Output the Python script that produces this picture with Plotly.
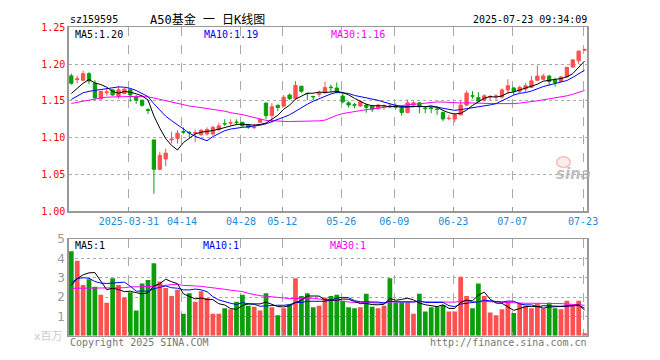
import plotly.graph_objects as go
import numpy as np
import math

dates = ["2025-" + d for d in [
    "03-17","03-18","03-19","03-20","03-21","03-24","03-25","03-26","03-27","03-28","03-31",
    "04-01","04-02","04-03","04-07","04-08","04-09","04-10","04-11","04-14","04-15","04-16",
    "04-17","04-18","04-21","04-22","04-23","04-24","04-25","04-28","04-29","04-30",
    "05-06","05-07","05-08","05-09","05-12","05-13","05-14","05-15","05-16","05-19","05-20",
    "05-21","05-22","05-23","05-26","05-27","05-28","05-29","05-30",
    "06-03","06-04","06-05","06-06","06-09","06-10","06-11","06-12","06-13","06-16","06-17",
    "06-18","06-19","06-20","06-23","06-24","06-25","06-26","06-27","06-30",
    "07-01","07-02","07-03","07-04","07-07","07-08","07-09","07-10","07-11","07-14","07-15",
    "07-16","07-17","07-18","07-21","07-22","07-23"]]

opens = [1.184,1.179,1.178,1.187,1.174,1.153,1.161,1.165,1.156,1.160,
         1.165,1.156,1.151,1.1382,1.097,1.057,1.071,1.097,1.099,1.1082,
         1.1072,1.106,1.104,1.105,1.105,1.111,1.1192,1.1198,1.1212,1.121,
         1.118,1.1135,1.121,1.147,1.130,1.144,1.143,1.158,1.153,1.170,
         1.1602,1.1562,1.159,1.161,1.1686,1.1675,1.1566,1.1474,1.1447,1.143,
         1.1443,1.143,1.140,1.143,1.1432,1.1425,1.140,1.1342,1.1443,1.1474,
         1.140,1.1402,1.1388,1.1342,1.126,1.1254,1.1311,1.1443,1.1568,1.1544,
         1.151,1.1553,1.1562,1.1553,1.1649,1.1675,1.1632,1.1662,1.1684,1.1781,
         1.1794,1.1838,1.1781,1.1763,1.1825,1.196,1.2044,1.219]
highs = [1.187,1.184,1.191,1.189,1.178,1.163,1.167,1.165,1.170,1.168,
         1.167,1.158,1.151,1.140,1.097,1.081,1.085,1.108,1.110,1.114,
         1.109,1.111,1.112,1.114,1.116,1.120,1.125,1.125,1.125,1.121,
         1.118,1.119,1.125,1.147,1.147,1.145,1.158,1.160,1.177,1.170,
         1.1605,1.1562,1.164,1.176,1.172,1.175,1.1605,1.1496,1.1474,1.151,
         1.1465,1.1443,1.146,1.1452,1.1465,1.1465,1.1443,1.1518,1.1496,1.148,
         1.1421,1.1421,1.142,1.1355,1.1311,1.1333,1.1509,1.164,1.1632,1.1618,
         1.159,1.158,1.159,1.167,1.1794,1.169,1.1706,1.174,1.1838,1.1982,
         1.1868,1.185,1.1816,1.1838,1.196,1.207,1.2189,1.221]
lows = [1.172,1.174,1.177,1.173,1.151,1.151,1.157,1.157,1.153,1.160,
        1.149,1.146,1.142,1.132,1.024,1.056,1.061,1.092,1.092,1.105,
        1.100,1.094,1.102,1.103,1.103,1.109,1.116,1.116,1.117,1.115,
        1.112,1.112,1.120,1.125,1.120,1.136,1.142,1.151,1.151,1.161,
        1.151,1.151,1.155,1.160,1.162,1.160,1.1465,1.1408,1.140,1.142,
        1.134,1.135,1.138,1.1377,1.140,1.138,1.1298,1.133,1.142,1.1333,
        1.1333,1.1333,1.131,1.1224,1.1237,1.121,1.130,1.143,1.153,1.1487,
        1.1496,1.151,1.151,1.153,1.1596,1.158,1.1605,1.162,1.1675,1.1772,
        1.178,1.1706,1.1693,1.1755,1.182,1.1947,1.200,1.2175]
closes = [1.174,1.180,1.187,1.177,1.154,1.163,1.162,1.158,1.165,1.166,
          1.158,1.151,1.144,1.1372,1.057,1.076,1.079,1.098,1.106,1.1075,
          1.1066,1.107,1.110,1.111,1.114,1.116,1.1188,1.1202,1.1208,1.116,
          1.114,1.1142,1.125,1.130,1.142,1.141,1.155,1.153,1.171,1.163,
          1.1598,1.1555,1.1605,1.168,1.168,1.162,1.1487,1.1443,1.1443,1.1487,
          1.1412,1.1386,1.1443,1.1436,1.1425,1.142,1.1342,1.1474,1.1474,1.1421,
          1.1395,1.1398,1.1385,1.1254,1.1263,1.1311,1.1443,1.1605,1.1566,1.1496,
          1.157,1.1557,1.1566,1.1649,1.1706,1.1632,1.1684,1.1706,1.1772,1.1838,
          1.1838,1.1763,1.175,1.1825,1.1956,1.2057,1.2175,1.2197]
volumes = [4.37,3.87,2.62,2.92,2.53,2.12,1.70,2.97,2.62,1.97,
           2.25,1.30,2.70,2.88,3.75,2.80,2.47,2.05,2.37,1.13,
           2.20,1.75,2.30,1.95,1.13,1.13,1.42,1.37,1.75,2.12,
           1.55,1.50,1.30,2.20,1.47,1.05,1.42,1.63,2.97,2.05,
           2.20,1.47,1.55,1.97,2.05,2.12,1.80,1.47,1.42,1.47,
           2.17,1.50,1.42,1.55,2.97,1.72,1.72,1.72,1.13,2.17,
           1.25,1.47,1.50,1.58,1.25,1.25,3.05,2.05,1.42,2.70,
           2.05,1.20,1.05,1.37,1.75,1.17,1.67,1.55,1.42,1.67,
           1.42,1.70,1.42,1.37,1.80,1.55,1.80,0.12]

# moving-average values for days before a full window exists
ma5_head = [1.160, 1.167, 1.174, 1.179]
ma10_head = [1.152, 1.157, 1.161, 1.163, 1.164, 1.165, 1.166, 1.168, 1.169]
ma30_head = [1.1465, 1.148, 1.150, 1.152, 1.153, 1.154, 1.155, 1.1555, 1.156, 1.156,
             1.156, 1.156, 1.156, 1.1555, 1.154, 1.152, 1.150, 1.148, 1.146, 1.144,
             1.143, 1.142, 1.141, 1.139, 1.138, 1.137, 1.136, 1.134, 1.133]
vma5_head = [2.60, 2.95, 3.15, 3.25]
vma10_head = [2.75, 2.95, 3.00, 2.97, 2.80, 2.72, 2.70, 2.72, 2.76]
vma30_head = [2.45, 2.45, 2.45, 2.45, 2.45, 2.45, 2.48, 2.48, 2.48, 2.48,
              2.52, 2.52, 2.52, 2.55, 2.55, 2.60, 2.60, 2.65, 2.65, 2.60,
              2.60, 2.57, 2.55, 2.52, 2.48, 2.43, 2.40, 2.35, 2.30]

tick_dates = ["2025-03-31", "2025-04-14", "2025-04-28", "2025-05-12", "2025-05-26",
              "2025-06-09", "2025-06-23", "2025-07-07", "2025-07-23"]
tick_text = ["2025-03-31", "04-14", "04-28", "05-12", "05-26", "06-09", "06-23", "07-07", "07-23"]
price_ticks = [1.00, 1.05, 1.10, 1.15, 1.20, 1.25]
vol_ticks = [1, 2, 3, 4, 5]


def moving_avg(vals, n, head):
    a = np.array(vals, dtype=float)
    out = []
    for i in range(len(a)):
        if i < n - 1:
            out.append(head[i])
        else:
            out.append(float(a[i - n + 1:i + 1].mean()))
    return out


x = list(range(len(dates)))
ma5 = moving_avg(closes, 5, ma5_head)
ma10 = moving_avg(closes, 10, ma10_head)
ma30 = moving_avg(closes, 30, ma30_head)
vma5 = moving_avg(volumes, 5, vma5_head)
vma10 = moving_avg(volumes, 10, vma10_head)
vma30 = moving_avg(volumes, 30, vma30_head)

RED = "#FF5050"
GREEN = "#0A9F0A"
vol_colors = [RED if c >= o else GREEN for o, c in zip(opens, closes)]

W, H = 660, 360
def px(v): return v / W
def py(v): return 1 - v / H

fig = go.Figure()
fig.add_trace(go.Candlestick(
    x=x, open=opens, high=highs, low=lows, close=closes,
    increasing=dict(line=dict(color=RED, width=1), fillcolor=RED),
    decreasing=dict(line=dict(color=GREEN, width=1), fillcolor=GREEN),
    xaxis="x", yaxis="y", hoverinfo="skip", showlegend=False))
for vals, col in [(ma30, "#FF00FF"), (ma10, "#0000FF"), (ma5, "#000000")]:
    fig.add_trace(go.Scatter(x=x, y=vals, mode="lines", line=dict(color=col, width=1),
                             xaxis="x", yaxis="y", hoverinfo="skip", showlegend=False))

fig.add_trace(go.Bar(x=x, y=volumes, marker=dict(color=vol_colors, line=dict(width=0)),
                     width=0.8, xaxis="x2", yaxis="y2", hoverinfo="skip", showlegend=False))
for vals, col in [(vma30, "#FF00FF"), (vma10, "#0000FF"), (vma5, "#000000")]:
    fig.add_trace(go.Scatter(x=x, y=vals, mode="lines", line=dict(color=col, width=1),
                             xaxis="x2", yaxis="y2", hoverinfo="skip", showlegend=False))

tickpos = [dates.index(d) - 0.25 for d in tick_dates]
xr = [-0.42, 87.42]
dom_x = [px(70), px(597)]
MONO = "DejaVu Sans Mono, Liberation Mono, monospace"
common_x = dict(range=xr, domain=dom_x, tickvals=tickpos, showgrid=True, griddash="dash",
                gridcolor="#AAAAAA", gridwidth=1, showline=True, mirror=True,
                linecolor="#999999", linewidth=1.5, ticks="inside", ticklen=4,
                tickcolor="#999999", zeroline=False, fixedrange=True)

fig.update_layout(
    width=W, height=H, margin=dict(l=0, r=0, t=0, b=0),
    paper_bgcolor="white", plot_bgcolor="white", boxgap=0.2,
    xaxis=dict(**common_x, anchor="y", ticktext=tick_text, rangeslider=dict(visible=False),
               tickfont=dict(family=MONO, size=10, color="#1A8BD8")),
    xaxis2=dict(**common_x, anchor="y2", showticklabels=False, matches="x"),
    yaxis=dict(domain=[py(211.3), py(21)], range=[1.0, 1.25], tickvals=price_ticks,
               ticktext=[f"{v:.2f}" for v in price_ticks], showgrid=True, griddash="dot",
               gridcolor="#AAAAAA", showline=True, mirror=True, linecolor="#999999",
               linewidth=1.5, zeroline=False, tickfont=dict(family=MONO, size=10, color="#FF0000"),
               fixedrange=True),
    yaxis2=dict(domain=[py(340), py(240)], range=[0, 5], tickvals=vol_ticks,
                showgrid=True, griddash="dot", gridcolor="#AAAAAA", showline=True, mirror=True,
                linecolor="#999999", linewidth=1.5, zeroline=False,
                tickfont=dict(family="DejaVu Sans, sans-serif", size=12, color="#999999"),
                fixedrange=True),
)

def note(text, x0, y0, color="#000", size=10, family=MONO, anchor="left"):
    fig.add_annotation(text=text, x=px(x0), y=py(y0), xref="paper", yref="paper",
                       xanchor=anchor, yanchor="middle", showarrow=False,
                       font=dict(family=family, size=size, color=color))

note("sz159595", 69, 13, "#000", 10)
note("A50基金 一 日K线图", 150, 13, "#000", 12, "DejaVu Sans Mono, Noto Sans CJK SC")
note("2025-07-23 09:34:09", 599, 13, "#000", 10, anchor="right")
note(f"MA5:{ma5[-1]:.2f}", 74, 28, "#000000")
note(f"MA10:{ma10[-1]:.2f}", 205, 28, "#0000FF")
note(f"MA30:{ma30[-1]:.2f}", 335, 28, "#FF00FF")
note(f"MA5:{math.floor(vma5[-1])}", 74, 247, "#000000")
note(f"MA10:{math.floor(vma10[-1])}", 204, 247, "#0000FF")
note(f"MA30:{math.floor(vma30[-1])}", 334, 247, "#FF00FF")
note("x百万", 66, 341, "#CCCCCC", 11, "DejaVu Sans, Noto Sans CJK SC", anchor="right")
note("Copyright 2025 SINA.COM", 69, 347, "#777777", 10)
note("http://finance.sina.com.cn", 599, 347, "#777777", 10, anchor="right")

# sina watermark
fig.add_shape(type="circle", xref="paper", yref="paper", x0=px(566), x1=px(580),
              y0=py(166), y1=py(155), line=dict(color="rgba(240,150,150,0.6)", width=1.5),
              fillcolor="rgba(250,200,200,0.35)", layer="below")
note("<b><i>sina</i></b>", 583, 173, "rgba(170,170,170,0.75)", 15, "DejaVu Sans, sans-serif", anchor="center")

fig.write_html("out.html", config={"displayModeBar": False, "staticPlot": True},
               post_script="document.body.style.margin='0';document.body.style.padding='0';")
